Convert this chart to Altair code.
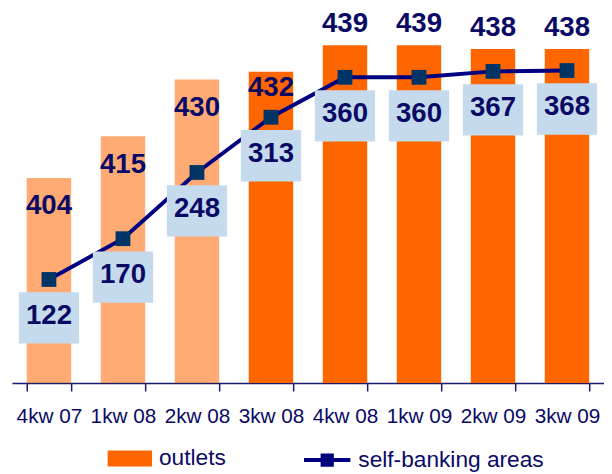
import altair as alt
import pandas as pd

quarters = ["4kw 07", "1kw 08", "2kw 08", "3kw 08", "4kw 08", "1kw 09", "2kw 09", "3kw 09"]
outlets = [404, 415, 430, 432, 439, 439, 438, 438]
self_banking = [122, 170, 248, 313, 360, 360, 367, 368]
hatched = [True, True, True, False, False, False, False, False]

ORANGE = "#FF6600"
NAVY_LINE = "#000080"
SQUARE = "#003366"
BOX = "#C6DAEE"
TXT = "#0A0A66"
FONT = "Liberation Sans"

df = pd.DataFrame({
    "quarter": quarters,
    "outlets": outlets,
    "self_banking": self_banking,
    "hatched": hatched,
    "s1": ["outlets"] * len(quarters),
    "s2": ["self-banking areas"] * len(quarters),
})

x = alt.X(
    "quarter:N",
    sort=quarters,
    scale=alt.Scale(paddingInner=0.4, paddingOuter=0.2),
    axis=alt.Axis(
        title=None, labelAngle=0, tickBand="extent", tickSize=8, tickWidth=1.5,
        tickColor="#1A1A6E", domainColor="#1A1A6E", domainWidth=1.5,
        labelFont=FONT, labelFontSize=21, labelColor=TXT, labelPadding=15,
    ),
)

bar_scale = alt.Scale(domain=[350, 448], zero=False, clamp=True)
line_scale = alt.Scale(domain=[0, 438], zero=True)

base = alt.Chart(df)

bars = base.mark_bar().encode(
    x=x,
    y=alt.Y("outlets:Q", scale=bar_scale, axis=None),
    fill=alt.Fill(
        "s1:N",
        scale=alt.Scale(domain=["outlets"], range=[ORANGE]),
        legend=alt.Legend(
            title=None, orient="none", legendX=97, legendY=431, padding=0,
            symbolType="M-1,-0.36H1V0.36H-1Z", symbolSize=2025, symbolStrokeWidth=0,
            labelFont=FONT, labelFontSize=23, labelColor=TXT, labelOffset=7, labelLimit=400,
        ),
    ),
    opacity=alt.condition("datum.hatched", alt.value(0.55), alt.value(1.0)),
)

bar_text = base.mark_text(
    font=FONT, fontSize=28, fontWeight="bold", color=TXT, baseline="middle"
).transform_calculate(
    labelY="datum.outlets >= 435 ? datum.outlets + 5.6 : (datum.hatched ? datum.outlets - 7.5 : datum.outlets - 4.4)"
).encode(
    x=x,
    y=alt.Y("labelY:Q", scale=bar_scale, axis=None),
    text="outlets:Q",
)

line = base.mark_line(strokeWidth=4).encode(
    x=x,
    y=alt.Y("self_banking:Q", scale=line_scale, axis=None),
    stroke=alt.Stroke(
        "s2:N",
        scale=alt.Scale(domain=["self-banking areas"], range=[NAVY_LINE]),
        legend=alt.Legend(
            title=None, orient="none", legendX=294, legendY=429.5, padding=0,
            symbolType="M-1,0H1M-0.2,-0.2H0.2V0.2H-0.2Z", symbolSize=2209,
            symbolStrokeWidth=4, symbolFillColor=SQUARE,
            labelFont=FONT, labelFontSize=23, labelColor=TXT, labelOffset=6, labelLimit=400,
        ),
    ),
)

points = base.mark_point(shape="square", size=225, filled=True, color=SQUARE, opacity=1).encode(
    x=x,
    y=alt.Y("self_banking:Q", scale=line_scale, axis=None),
)

boxes = base.mark_point(
    shape="M-1.173,-1H1.173V1H-1.173Z", size=2704, filled=True, color=BOX, opacity=1, yOffset=39
).encode(
    x=x,
    y=alt.Y("self_banking:Q", scale=line_scale, axis=None),
)

box_text = base.mark_text(
    font=FONT, fontSize=28, fontWeight="bold", color=TXT, baseline="middle", dy=37
).encode(
    x=x,
    y=alt.Y("self_banking:Q", scale=line_scale, axis=None),
    text="self_banking:Q",
)

chart = alt.layer(bars, line, points, boxes, box_text, bar_text).resolve_scale(
    y="independent"
).properties(
    width=600,
    height=377,
    autosize=alt.AutoSizeParams(type="none"),
    padding={"left": 4, "top": 0, "right": 0, "bottom": 88},
).configure_view(strokeWidth=0)

chart.save("out.html", embed_options={"renderer": "svg", "actions": False})
